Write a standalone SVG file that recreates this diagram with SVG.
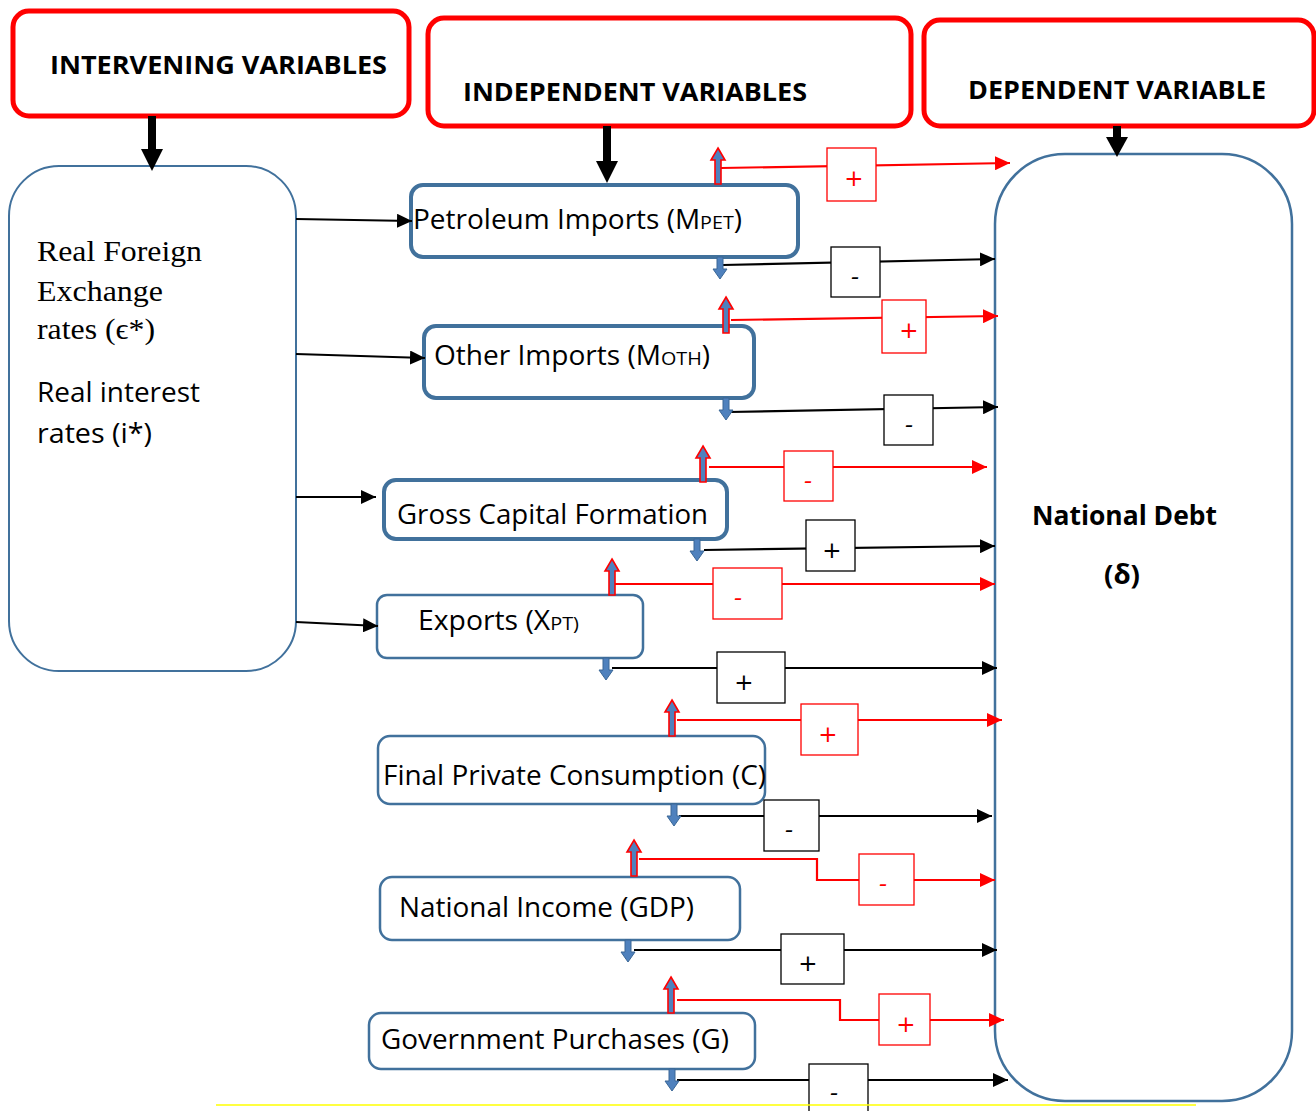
<svg xmlns="http://www.w3.org/2000/svg" width="1316" height="1111" viewBox="0 0 1316 1111">
<style>
.hdr{fill:#fff;stroke:#ff0000;stroke-width:5}
.htx{font-family:"Open Sans","Liberation Sans",sans-serif;font-weight:bold;font-size:25px;fill:#000}
.nb{fill:#fff;stroke:#41719c;stroke-width:4}
.nt{fill:#fff;stroke:#41719c;stroke-width:2.5}
.lbl{font-family:"Open Sans","Liberation Sans",sans-serif;font-size:27px;fill:#000}
.sub{font-size:19px}
.ser{font-family:"Liberation Serif","Times New Roman",serif;font-size:29px;fill:#000}
.bk{fill:none;stroke:#000;stroke-width:2.2}
.rd{fill:none;stroke:#ff0000;stroke-width:2.2}
.thick{fill:none;stroke:#000;stroke-width:8}
.sb{fill:#fff;stroke:#000;stroke-width:1.3}
.sr{fill:#fff;stroke:#ff0000;stroke-width:1.3}
.st{font-family:"DejaVu Sans","Liberation Sans",sans-serif;font-size:23px;font-style:oblique;text-anchor:middle}
.up{fill:#4f81bd;stroke:#ff0000;stroke-width:1.6}
.dn{fill:#4f81bd;stroke:#3a6796;stroke-width:1}
</style>
<defs>
<marker id="ab" markerUnits="userSpaceOnUse" markerWidth="16" markerHeight="14" refX="15" refY="7" orient="auto"><path d="M0,0 L15,7 L0,14 Z" fill="#000"/></marker>
<marker id="ar" markerUnits="userSpaceOnUse" markerWidth="16" markerHeight="14" refX="15" refY="7" orient="auto"><path d="M0,0 L15,7 L0,14 Z" fill="#ff0000"/></marker>
<path id="uparr" d="M0,0 L7,12 L3,12 L3,36 L-3,36 L-3,12 L-7,12 Z"/>
<path id="dnarr" d="M-3,0 L3,0 L3,12 L7,12 L0,22 L-7,12 L-3,12 Z"/>
</defs>

<g id="hdr-intervening">
<rect class="hdr" x="13" y="11" width="396" height="105" rx="16"/>
<text class="htx" x="50" y="74" textLength="337" lengthAdjust="spacingAndGlyphs">INTERVENING VARIABLES</text>
</g>
<g id="hdr-independent">
<rect class="hdr" x="428" y="18" width="483" height="108" rx="16"/>
<text class="htx" x="463" y="101" textLength="344" lengthAdjust="spacingAndGlyphs">INDEPENDENT VARIABLES</text>
</g>
<g id="hdr-dependent">
<rect class="hdr" x="924" y="20" width="390" height="106" rx="16"/>
<text class="htx" x="968" y="99" textLength="298" lengthAdjust="spacingAndGlyphs">DEPENDENT VARIABLE</text>
</g>

<g id="intervening">
<rect x="9" y="166" width="287" height="505" rx="50" fill="#fff" stroke="#41719c" stroke-width="2"/>
<text class="ser" x="37" y="261" textLength="165" lengthAdjust="spacingAndGlyphs">Real Foreign</text>
<text class="ser" x="37" y="301" textLength="126" lengthAdjust="spacingAndGlyphs">Exchange</text>
<text class="ser" x="37" y="339" textLength="118" lengthAdjust="spacingAndGlyphs">rates (ϵ*)</text>
<text class="lbl" x="37" y="402" textLength="163" lengthAdjust="spacingAndGlyphs">Real interest</text>
<text class="lbl" x="37" y="443" textLength="115" lengthAdjust="spacingAndGlyphs">rates (i*)</text>
</g>

<g id="national-debt">
<rect x="995" y="154" width="297" height="947" rx="70" fill="#fff" stroke="#41719c" stroke-width="2.5"/>
<text class="htx" x="1032" y="525" textLength="185" lengthAdjust="spacingAndGlyphs" style="font-size:26px">National Debt</text>
<text class="htx" x="1104" y="584" textLength="36" lengthAdjust="spacingAndGlyphs" style="font-size:26px">(δ)</text>
</g>

<g id="petroleum">
<rect class="nb" x="411" y="185" width="387" height="72" rx="12"/>
<text class="lbl" x="413" y="229" textLength="329" lengthAdjust="spacingAndGlyphs">Petroleum Imports (M<tspan class="sub">PET</tspan>)</text>
</g>
<g id="other-imports">
<rect class="nb" x="424" y="326" width="330" height="72" rx="12"/>
<text class="lbl" x="434" y="365" textLength="276" lengthAdjust="spacingAndGlyphs">Other Imports (M<tspan class="sub">OTH</tspan>)</text>
</g>
<g id="gcf">
<rect class="nb" x="384" y="480" width="343" height="59" rx="12"/>
<text class="lbl" x="397" y="524" textLength="311" lengthAdjust="spacingAndGlyphs">Gross Capital Formation</text>
</g>
<g id="exports">
<rect class="nt" x="377" y="595" width="266" height="63" rx="10"/>
<text class="lbl" x="418" y="630" textLength="161" lengthAdjust="spacingAndGlyphs">Exports (X<tspan class="sub">PT)</tspan></text>
</g>
<g id="consumption">
<rect class="nt" x="378" y="736" width="387" height="68" rx="12"/>
<text class="lbl" x="383" y="785" textLength="383" lengthAdjust="spacingAndGlyphs">Final Private Consumption (C)</text>
</g>
<g id="gdp">
<rect class="nt" x="380" y="877" width="360" height="63" rx="12"/>
<text class="lbl" x="399" y="917" textLength="295" lengthAdjust="spacingAndGlyphs">National Income (GDP)</text>
</g>
<g id="government">
<rect class="nt" x="369" y="1013" width="386" height="56" rx="12"/>
<text class="lbl" x="381" y="1049" textLength="348" lengthAdjust="spacingAndGlyphs">Government Purchases (G)</text>
</g>

<g id="connectors">
<path class="thick" d="M152,116 L152,150" />
<path d="M141,149 L163,149 L152,171 Z" fill="#000"/>
<path class="thick" d="M607,126 L607,162" />
<path d="M596,161 L618,161 L607,183 Z" fill="#000"/>
<path class="thick" d="M1117,126 L1117,138" />
<path d="M1106,137 L1128,137 L1117,157 Z" fill="#000"/>

<path class="bk" d="M296,219 L412,221" marker-end="url(#ab)"/>
<path class="bk" d="M296,354 L425,358" marker-end="url(#ab)"/>
<path class="bk" d="M296,497 L376,497" marker-end="url(#ab)"/>
<path class="bk" d="M296,622 L378,626" marker-end="url(#ab)"/>

<path class="rd" d="M721,168 L1010,163" marker-end="url(#ar)"/>
<rect class="sr" x="827" y="148" width="49" height="53"/>
<text class="st" x="854" y="186" fill="#ff0000">+</text>
<path class="bk" d="M723,265 L995,259" marker-end="url(#ab)"/>
<rect class="sb" x="831" y="247" width="49" height="50"/>
<text class="st" x="855" y="284" fill="#000">-</text>

<path class="rd" d="M731,320 L998,316" marker-end="url(#ar)"/>
<rect class="sr" x="882" y="300" width="44" height="53"/>
<text class="st" x="909" y="338" fill="#ff0000">+</text>
<path class="bk" d="M729,412 L998,407" marker-end="url(#ab)"/>
<rect class="sb" x="884" y="395" width="49" height="50"/>
<text class="st" x="909" y="432" fill="#000">-</text>

<path class="rd" d="M709,467 L987,467" marker-end="url(#ar)"/>
<rect class="sr" x="784" y="451" width="49" height="50"/>
<text class="st" x="808" y="488" fill="#ff0000">-</text>
<path class="bk" d="M704,550 L995,546" marker-end="url(#ab)"/>
<rect class="sb" x="806" y="520" width="49" height="51"/>
<text class="st" x="832" y="558" fill="#000">+</text>

<path class="rd" d="M615,584 L995,584" marker-end="url(#ar)"/>
<rect class="sr" x="713" y="568" width="69" height="51"/>
<text class="st" x="738" y="605" fill="#ff0000">-</text>
<path class="bk" d="M612,668 L997,668" marker-end="url(#ab)"/>
<rect class="sb" x="717" y="652" width="68" height="51"/>
<text class="st" x="744" y="690" fill="#000">+</text>

<path class="rd" d="M677,720 L1002,720" marker-end="url(#ar)"/>
<rect class="sr" x="801" y="704" width="57" height="51"/>
<text class="st" x="828" y="742" fill="#ff0000">+</text>
<path class="bk" d="M679,816 L992,816" marker-end="url(#ab)"/>
<rect class="sb" x="764" y="800" width="55" height="51"/>
<text class="st" x="789" y="837" fill="#000">-</text>

<path class="rd" d="M639,859 L817,859 L817,880 L995,880" marker-end="url(#ar)"/>
<rect class="sr" x="859" y="854" width="55" height="51"/>
<text class="st" x="883" y="891" fill="#ff0000">-</text>
<path class="bk" d="M634,950 L997,950" marker-end="url(#ab)"/>
<rect class="sb" x="781" y="934" width="63" height="50"/>
<text class="st" x="808" y="971" fill="#000">+</text>

<path class="rd" d="M677,1000 L840,1000 L840,1020 L1004,1020" marker-end="url(#ar)"/>
<rect class="sr" x="879" y="994" width="51" height="51"/>
<text class="st" x="906" y="1032" fill="#ff0000">+</text>
<path class="bk" d="M677,1080 L1008,1080" marker-end="url(#ab)"/>
<rect class="sb" x="809" y="1064" width="59" height="52"/>
<text class="st" x="834" y="1100" fill="#000">-</text>

<use href="#uparr" class="up" x="718" y="148"/>
<use href="#uparr" class="up" x="726" y="297"/>
<use href="#uparr" class="up" x="703" y="446"/>
<use href="#uparr" class="up" x="612" y="559"/>
<use href="#uparr" class="up" x="672" y="700"/>
<use href="#uparr" class="up" x="634" y="840"/>
<use href="#uparr" class="up" x="671" y="977"/>
<use href="#dnarr" class="dn" x="720" y="257"/>
<use href="#dnarr" class="dn" x="726" y="398"/>
<use href="#dnarr" class="dn" x="697" y="539"/>
<use href="#dnarr" class="dn" x="606" y="658"/>
<use href="#dnarr" class="dn" x="674" y="804"/>
<use href="#dnarr" class="dn" x="628" y="940"/>
<use href="#dnarr" class="dn" x="672" y="1069"/>
</g>

<line x1="216" y1="1105" x2="1196" y2="1105" stroke="#ffff00" stroke-width="1.5"/>
</svg>
